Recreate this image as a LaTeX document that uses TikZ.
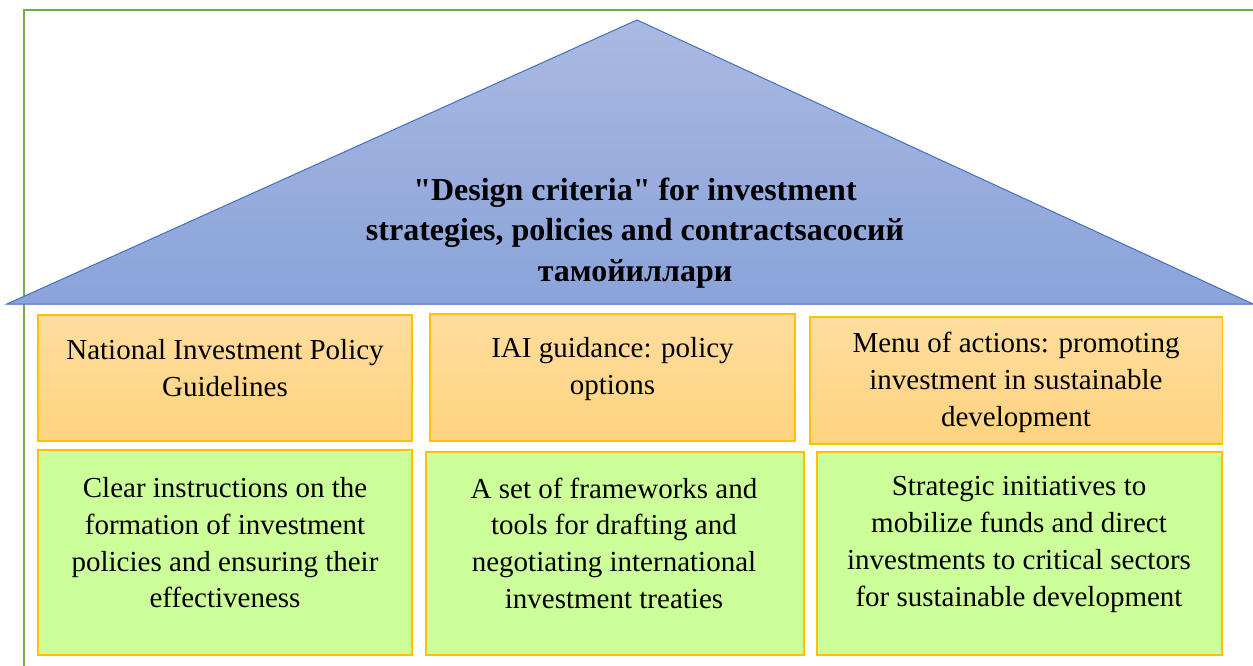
\documentclass[tikz,border=0pt]{standalone}
\usepackage{fontspec}
\setmainfont{LiberationSerif}[
  Extension=.ttf,
  UprightFont=*-Regular,
  BoldFont=*-Bold,
  ItalicFont=*-Italic,
  BoldItalicFont=*-BoldItalic,
  Ligatures=TeXOff]
\definecolor{framegreen}{HTML}{70AD47}
\definecolor{roofline}{HTML}{4472C4}
\definecolor{rooftop}{HTML}{AAB9E1}
\definecolor{roofbot}{HTML}{8AA3DA}
\definecolor{boxgold}{HTML}{FFC000}
\definecolor{orangetop}{HTML}{FFDD9E}
\definecolor{orangebot}{HTML}{FFD37F}
\definecolor{greenfill}{HTML}{CCFE9A}
\begin{document}
\begin{tikzpicture}[x=1pt,y=-1pt,
  boxbase/.style={draw=boxgold, line width=1.3pt, inner sep=0pt, rectangle},
  orangebox/.style={boxbase, top color=orangetop, bottom color=orangebot},
  greenbox/.style={boxbase, fill=greenfill},
  boxtext/.style={align=center, inner sep=0pt, font=\fontsize{29}{36.7}\selectfont},
  rooftext/.style={align=center, inner sep=0pt, font=\fontsize{32}{40.5}\selectfont\bfseries}]
\useasboundingbox (0,0) rectangle (1253,666);

% outer frame
\draw[framegreen, line width=2.2pt] (24,670) |- (1260,10);

% roof
\coordinate (apex) at (637,20);
\coordinate (baseL) at (7,304);
\coordinate (baseR) at (1253,304);
\filldraw[draw=roofline, line width=1pt, top color=rooftop, bottom color=roofbot]
  (baseL) -- (apex) -- (baseR) -- cycle;
\node[rooftext] (roof) at (635,232.7)
  {"Design criteria" for investment\\strategies, policies and contractsасосий\\тамойиллари};

% upper row
\node[orangebox, minimum width=374pt, minimum height=126pt] (o1) at (225,378) {};
\node[orangebox, minimum width=365pt, minimum height=127pt] (o2) at (612.5,377.5) {};
\node[orangebox, minimum width=412.7pt, minimum height=127pt] (o3) at (1016.3,380.5) {};
\node[boxtext] (o1t) at (225,368) {National Investment Policy\\Guidelines};
\node[boxtext] (o2t) at (612.5,369) {IAI guidance: policy\\options};
\node[boxtext] (o3t) at (1016,382.5) {Menu of actions: promoting\\investment in sustainable\\development};

% lower row
\node[greenbox, minimum width=374pt, minimum height=205pt] (g1) at (225,552.5) {};
\node[greenbox, minimum width=378pt, minimum height=203pt] (g2) at (615,553.5) {};
\node[greenbox, minimum width=405pt, minimum height=203pt] (g3) at (1019.5,553.5) {};
\node[boxtext] (g1t) at (225,543) {Clear instructions on the\\formation of investment\\policies and ensuring their\\effectiveness};
\node[boxtext] (g2t) at (614,543) {A set of frameworks and\\tools for drafting and\\negotiating international\\investment treaties};
\node[boxtext] (g3t) at (1019,544.5) {Strategic initiatives to\\mobilize funds and direct\\investments to critical sectors\\for sustainable development};
\end{tikzpicture}
\end{document}
